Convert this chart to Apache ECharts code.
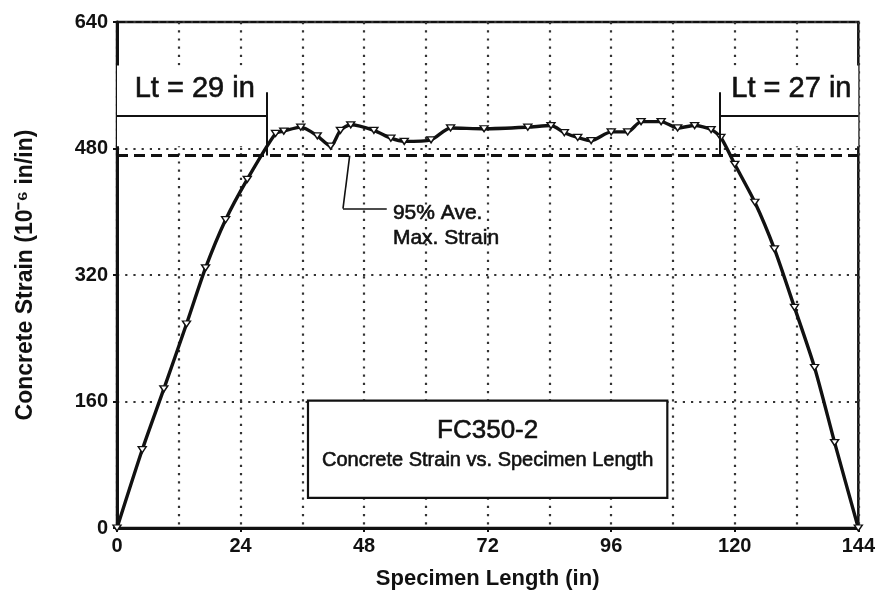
<!DOCTYPE html>
<html>
<head>
<meta charset="utf-8">
<script src="https://cdn.jsdelivr.net/npm/echarts@6/dist/echarts.min.js"></script>
<style>
  html, body { margin: 0; padding: 0; background: #fff; }
  #chart { width: 878px; height: 605px; }
</style>
</head>
<body>
<div id="chart"></div>
<script>
// Gauge positions along the specimen (in) and measured concrete strain (10^-6 in/in)
const positions = [0, 4.9, 9.1, 13.5, 17.2, 21.1, 25.3, 30.8, 32.4, 35.7, 38.9, 41.5, 43.4, 45.4,
  49.9, 53.2, 55.8, 61, 64.8, 71.3, 79.8, 84.3, 86.9, 89.5, 92.1, 96, 99.2, 101.8, 105.7,
  108.9, 112.2, 115.4, 117.3, 120, 123.9, 127.7, 131.6, 135.5, 139.4, 144];
const strain = [0, 99, 176, 258, 329, 390, 441, 499, 502, 507, 496, 483, 503, 510,
  503, 493, 489, 491, 506, 505, 507, 509, 500, 494, 490, 501, 501, 514, 514,
  506, 509, 504, 494, 460, 412, 353, 279, 203, 108, 0];

// Axis ticks
const xTicks = [0, 24, 48, 72, 96, 120, 144];
const yTicks = [0, 160, 320, 480, 640];

// Reference levels and transfer lengths
const specimenLength = 144;
const avgMax95 = 471;
const ltLeft = 29;
const ltRight = 27;

const FONT = '"Liberation Sans", Arial, Helvetica, sans-serif';
const INK = '#111';

const chart = echarts.init(document.getElementById('chart'), null, { renderer: 'canvas' });

const dotted = { color: '#333', width: 2.2, type: [2.2, 6] };
const solid = { color: INK, width: 2, type: 'solid' };
// slightly heavier lettering for the annotations
const heavy = { textBorderColor: INK, textBorderWidth: 0.6 };

const rightStart = specimenLength - ltRight;

chart.setOption({
  backgroundColor: '#fff',
  animation: false,
  grid: {
    left: 117, right: 19, top: 22, bottom: 77,
    show: true, borderColor: INK, borderWidth: 2.5, backgroundColor: 'transparent'
  },
  xAxis: {
    type: 'value',
    min: xTicks[0], max: xTicks[xTicks.length - 1], interval: xTicks[1] - xTicks[0],
    name: 'Specimen Length (in)', nameLocation: 'middle', nameGap: 40,
    nameTextStyle: { fontFamily: FONT, fontSize: 22, fontWeight: 'bold', color: INK },
    axisLine: { show: true, onZero: false, lineStyle: { color: INK, width: 3 } },
    axisTick: { show: true, length: 4, lineStyle: { color: INK, width: 2 } },
    axisLabel: { fontFamily: FONT, fontSize: 20, fontWeight: 'bold', color: INK, margin: 8 },
    splitLine: { show: true, lineStyle: dotted },
    minorTick: { show: false, splitNumber: 2 },
    minorSplitLine: { show: true, lineStyle: dotted }
  },
  yAxis: {
    type: 'value',
    min: yTicks[0], max: yTicks[yTicks.length - 1], interval: yTicks[1] - yTicks[0],
    name: 'Concrete Strain (10\u207B\u2076 in/in)', nameLocation: 'middle', nameGap: 80,
    nameTextStyle: { fontFamily: FONT, fontSize: 23, fontWeight: 'bold', color: INK },
    axisLine: { show: true, onZero: false, lineStyle: { color: INK, width: 3 } },
    axisTick: { show: true, length: 4, lineStyle: { color: INK, width: 2 } },
    axisLabel: { fontFamily: FONT, fontSize: 20, fontWeight: 'bold', color: INK, margin: 9 },
    splitLine: { show: true, lineStyle: dotted }
  },
  series: [{
    type: 'line',
    data: positions.map((x, i) => [x, strain[i]]),
    smooth: 0.25,
    symbol: 'triangle',
    symbolRotate: 180,
    symbolSize: [8, 6],
    showAllSymbol: true,
    itemStyle: { color: '#fff', borderColor: INK, borderWidth: 1.4 },
    lineStyle: { color: INK, width: 3.4 },
    z: 3,
    markArea: {
      silent: true,
      data: [
        // clear panels behind the transfer-length labels
        [{ coord: [0, 585], itemStyle: { color: '#fff', borderWidth: 0 } }, { coord: [ltLeft, 483] }],
        [{ coord: [rightStart, 585], itemStyle: { color: '#fff', borderWidth: 0 } }, { coord: [specimenLength, 483] }],
        // specimen title box
        [{
          coord: [37.1, 161],
          itemStyle: { color: '#fff', borderColor: INK, borderWidth: 2.2 },
          label: {
            show: true, position: 'inside', padding: [0, 0, 10, 0],
            formatter: '{t|FC350-2}\n{s|Concrete Strain vs. Specimen Length}',
            rich: {
              t: Object.assign({ fontFamily: FONT, fontSize: 26, lineHeight: 32, color: INK, align: 'center' }, heavy),
              s: Object.assign({ fontFamily: FONT, fontSize: 20, lineHeight: 28, color: INK, align: 'center' }, heavy)
            }
          }
        }, { coord: [106.9, 38] }]
      ]
    },
    markLine: {
      silent: true,
      symbol: ['none', 'none'],
      label: { show: false },
      data: [
        // 95% of average maximum strain
        [{ coord: [0, avgMax95], lineStyle: { color: INK, width: 3, type: [11, 6] } },
         { coord: [specimenLength, avgMax95] }],
        // left transfer length bracket
        [{ coord: [0, 522], lineStyle: solid }, { coord: [ltLeft, 522] }],
        [{ coord: [ltLeft, avgMax95], lineStyle: solid }, { coord: [ltLeft, 551] }],
        // right transfer length bracket
        [{ coord: [rightStart, 522], lineStyle: solid }, { coord: [specimenLength, 522] }],
        [{ coord: [rightStart, avgMax95], lineStyle: solid }, { coord: [rightStart, 551] }],
        // leader for the 95% note
        [{ coord: [45.2, avgMax95], lineStyle: { color: INK, width: 1.6, type: 'solid' } }, { coord: [43.9, 404] }],
        [{ coord: [43.9, 404], lineStyle: { color: INK, width: 1.6, type: 'solid' } }, { coord: [52.4, 404] }]
      ]
    },
    markPoint: {
      silent: true,
      symbol: 'circle',
      symbolSize: 1,
      itemStyle: { color: 'rgba(0,0,0,0)' },
      data: [
        { coord: [15.1, 555], label: Object.assign({ show: true, position: 'inside', formatter: 'Lt = ' + ltLeft + ' in',
          fontFamily: FONT, fontSize: 29, color: INK }, heavy) },
        { coord: [131, 555], label: Object.assign({ show: true, position: 'inside', formatter: 'Lt = ' + ltRight + ' in',
          fontFamily: FONT, fontSize: 29, color: INK }, heavy) },
        { coord: [53.6, 382], label: Object.assign({ show: true, position: 'inside', align: 'left',
          formatter: '95% Ave.\nMax. Strain', lineHeight: 25,
          fontFamily: FONT, fontSize: 21, color: INK }, heavy) }
      ]
    }
  }]
});
</script>
</body>
</html>
